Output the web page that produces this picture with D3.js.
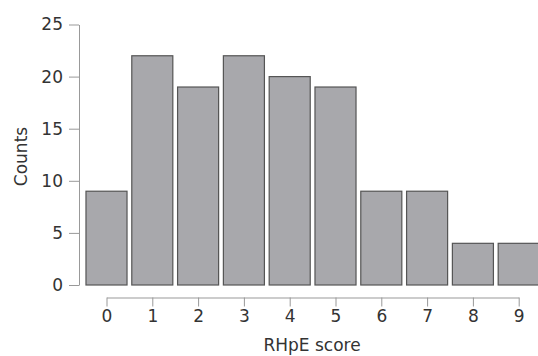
<!DOCTYPE html>
<html>
<head>
<meta charset="utf-8">
<script src="https://cdn.jsdelivr.net/npm/d3@7"></script>
<style>
  html, body { margin: 0; padding: 0; background: #fff; }
  svg { display: block; }
  text { font-family: "DejaVu Sans", sans-serif; fill: #333; }
</style>
</head>
<body>
<svg id="chart" width="538" height="356"></svg>
<script>
// RHpE score histogram
const scores = [0, 1, 2, 3, 4, 5, 6, 7, 8, 9];
const counts = [9, 22, 19, 22, 20, 19, 9, 9, 4, 4];
const yTicks = [0, 5, 10, 15, 20, 25];

const FONT = "DejaVu Sans, sans-serif";
const svg = d3.select("#chart");

const x = d3.scaleLinear().domain([0, 9]).range([106.5, 518.7]);
const y = d3.scaleLinear().domain([0, 25]).range([285, 24.5]);
const halfBar = 0.448;

// bars
svg.append("g")
  .selectAll("rect")
  .data(scores)
  .join("rect")
  .attr("x", d => x(d - halfBar))
  .attr("width", d => x(d + halfBar) - x(d - halfBar))
  .attr("y", (d, i) => y(counts[i]))
  .attr("height", (d, i) => y(0) - y(counts[i]))
  .attr("fill", "#a8a8ac")
  .attr("stroke", "#555")
  .attr("stroke-width", 1.2);

// y axis
const yAxis = svg.append("g")
  .attr("transform", "translate(79,0)")
  .call(d3.axisLeft(y).tickValues(yTicks).tickSize(10).tickPadding(6).tickSizeOuter(0));
yAxis.select(".domain").attr("stroke", "#999");
yAxis.selectAll(".tick line").attr("stroke", "#999");
yAxis.selectAll(".tick text").attr("font-size", 17).attr("fill", "#333")
  .attr("font-family", FONT);

// x axis
const xAxis = svg.append("g")
  .attr("transform", "translate(0,297.5)")
  .call(d3.axisBottom(x).tickValues(scores).tickSize(9).tickPadding(3).tickSizeOuter(0)
    .tickFormat(d3.format("d")));
xAxis.select(".domain").attr("stroke", "#999");
xAxis.selectAll(".tick line").attr("stroke", "#999");
xAxis.selectAll(".tick text").attr("font-size", 17).attr("fill", "#333")
  .attr("font-family", FONT);

// axis titles
svg.append("text")
  .attr("x", 312).attr("y", 350.5)
  .attr("text-anchor", "middle")
  .attr("font-size", 17)
  .text("RHpE score");

svg.append("text")
  .attr("transform", "translate(26.5,156.5) rotate(-90)")
  .attr("text-anchor", "middle")
  .attr("font-size", 17)
  .text("Counts");
</script>
</body>
</html>
